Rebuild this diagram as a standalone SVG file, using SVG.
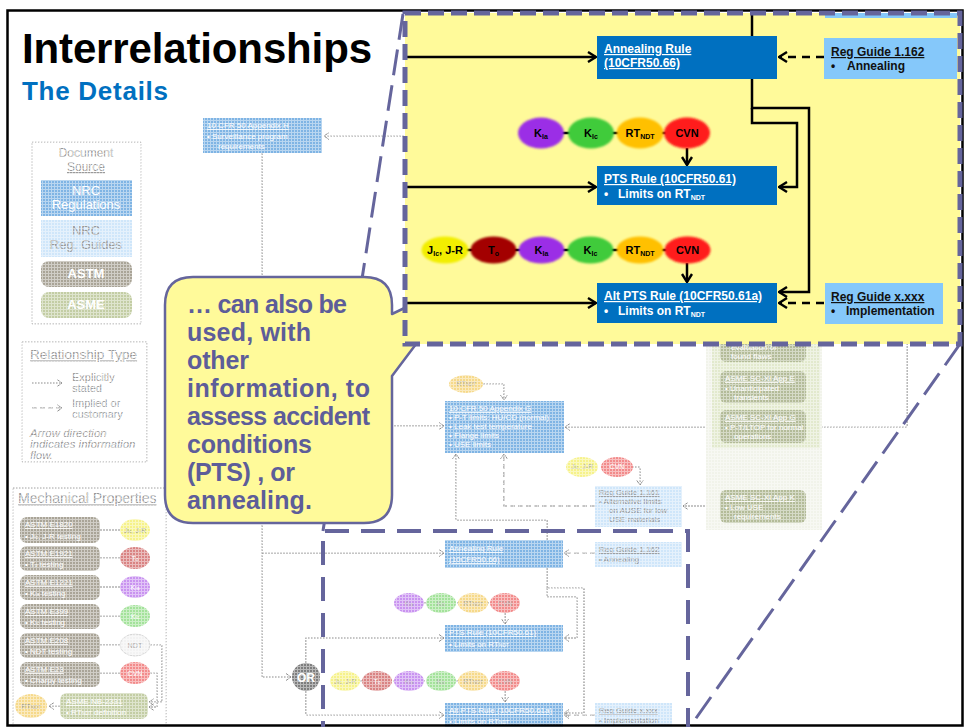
<svg xmlns="http://www.w3.org/2000/svg" width="966" height="727" viewBox="0 0 966 727">
<defs>
  <pattern id="hatch" width="3" height="3" patternUnits="userSpaceOnUse">
    <rect x="0" y="0" width="3" height="1" fill="#fff"/>
    <rect x="0" y="0" width="1" height="3" fill="#fff"/>
  </pattern>
  <marker id="ah" viewBox="0 0 10 12" refX="9" refY="6" markerWidth="10" markerHeight="12" markerUnits="userSpaceOnUse" orient="auto">
    <path d="M1,1 L9,6 L1,11" fill="none" stroke="#000" stroke-width="2.4"/>
  </marker>
  <marker id="fh" viewBox="0 0 6 8" refX="5.5" refY="4" markerWidth="6" markerHeight="8" markerUnits="userSpaceOnUse" orient="auto">
    <path d="M0.5,0.5 L5.5,4 L0.5,7.5" fill="none" stroke="#8c8c8c" stroke-width="1"/>
  </marker>
  <filter id="soft" x="-20%" y="-30%" width="140%" height="160%">
    <feGaussianBlur stdDeviation="0.8"/>
  </filter>
</defs>
<style>
  text { font-family: "Liberation Sans", Arial, sans-serif; }
  .f-line { fill:none; stroke:#8c8c8c; stroke-width:1.2; stroke-dasharray:2 1; }
  .f-dash { fill:none; stroke:#8c8c8c; stroke-width:1.2; stroke-dasharray:5 3; }
  .f-box { fill:none; stroke:#a0a0a0; stroke-width:1; stroke-dasharray:1.5 1.5; }
  .f-nrc { fill:#7fb4e4; }
  .f-rg { fill:#cfe6fa; }
  .f-astm { fill:#a9a497; }
  .f-asme { fill:#c3cda4; }
  .f-sc { fill:#b3bb98; }
  .f-wt { fill:#fff; font-size:8px; }
  .f-gt { fill:#8f8f8f; font-size:8px; }
  .f-lg { fill:#9a9a9a; font-size:12px; }
  .f-lt { fill:#999; font-size:11px; }
  .f-et { font-size:7px; text-anchor:middle; }
  .u { text-decoration:underline; }
  .k-line { fill:none; stroke:#000; stroke-width:2.5; }
  .k-dash { fill:none; stroke:#000; stroke-width:2.5; stroke-dasharray:8 6; }
  .reg { fill:#0070c0; }
  .rg { fill:#85c8fa; }
  .bt { fill:#fff; font-size:12px; font-weight:bold; }
  .dt { fill:#111; font-size:12px; font-weight:bold; }
  .et { font-size:11px; font-weight:bold; text-anchor:middle; fill:#000; }
  .sub { font-size:7px; }
  .co { fill:#5d5d99; font-size:25px; font-weight:bold; }
  .pd { fill:none; stroke:#65659c; }
  .glow { filter:url(#soft); }
</style>

<rect x="0" y="0" width="966" height="727" fill="#fff"/>

<!-- ===== washed-out background diagram ===== -->
<g id="background-diagram">
  <!-- legend: document source -->
  <g id="legend-source">
    <rect class="f-box" x="32" y="142" width="109" height="182"/>
    <text class="f-lg" x="86" y="157" text-anchor="middle">Document</text>
    <text class="f-lg u" x="86" y="171" text-anchor="middle">Source</text>
    <rect class="f-nrc" x="41" y="180" width="91" height="36"/>
    <text x="86" y="195" fill="#fff" font-size="13" text-anchor="middle">NRC</text>
    <text x="86" y="209" fill="#fff" font-size="13" text-anchor="middle">Regulations</text>
    <rect class="f-rg" x="41" y="220" width="91" height="37"/>
    <text x="86" y="235" fill="#9a9a9a" font-size="13" text-anchor="middle">NRC</text>
    <text x="86" y="249" fill="#9a9a9a" font-size="13" text-anchor="middle">Reg. Guides</text>
    <rect class="f-astm" x="41" y="261" width="91" height="26" rx="8"/>
    <text x="86" y="278" fill="#fff" font-size="13" font-weight="bold" text-anchor="middle">ASTM</text>
    <rect class="f-asme" x="41" y="292" width="91" height="26" rx="8"/>
    <text x="86" y="309" fill="#fff" font-size="13" font-weight="bold" text-anchor="middle">ASME</text>
  </g>

  <!-- legend: relationship type -->
  <g id="legend-relationship">
    <rect class="f-box" x="22" y="342" width="125" height="120"/>
    <text class="f-lg u" x="30" y="359" style="font-size:13.5px">Relationship Type</text>
    <path class="f-line" d="M32,383 H62" marker-end="url(#fh)"/>
    <text class="f-lt" x="72" y="381">Explicitly</text>
    <text class="f-lt" x="72" y="392">stated</text>
    <path class="f-dash" d="M32,408 H62" marker-end="url(#fh)"/>
    <text class="f-lt" x="72" y="407">Implied or</text>
    <text class="f-lt" x="72" y="418">customary</text>
    <text class="f-lt" x="30" y="437" style="font-size:11.5px;font-style:italic">Arrow direction</text>
    <text class="f-lt" x="30" y="448" style="font-size:11.5px;font-style:italic">indicates information</text>
    <text class="f-lt" x="30" y="459" style="font-size:11.5px;font-style:italic">flow.</text>
  </g>

  <!-- mechanical properties -->
  <g id="mechanical-properties">
    <rect class="f-box" x="13" y="488" width="153" height="250"/>
    <text class="f-lg u" x="18" y="503" style="font-size:14px">Mechanical Properties</text>
    <path class="f-line" d="M100,530 H120 M100,558 H120 M100,587 H120 M100,616 H120 M100,645 H120 M100,673 H120"/>
    <path class="f-line" d="M150,645 H162 V702 H149" marker-end="url(#fh)"/>
    <path class="f-line" d="M150,673 H157 V707 H149" marker-end="url(#fh)"/>
    <path class="f-line" d="M60,706 H49" marker-end="url(#fh)"/>
    <g id="astm-e1820">
      <rect class="f-astm" x="20" y="517" width="80" height="26" rx="7"/>
      <text class="f-wt u" x="25" y="527">ASTM E1820</text>
      <text class="f-wt" x="25" y="539">•  J<tspan font-size="5">Ic</tspan>, J-R testing</text>
      <ellipse cx="135" cy="530" rx="15" ry="11" fill="#f6f28a"/>
      <text class="f-et" x="135" y="533" fill="#999">J<tspan font-size="5">Ic</tspan>, J-R</text>
    </g>
    <g id="astm-e1921">
      <rect class="f-astm" x="20" y="546" width="80" height="25" rx="7"/>
      <text class="f-wt u" x="25" y="556">ASTM E1921</text>
      <text class="f-wt" x="25" y="567">•  T<tspan font-size="5">o</tspan> testing</text>
      <ellipse cx="135" cy="558" rx="15" ry="11" fill="#d98383"/>
      <text class="f-et" x="135" y="561" fill="#fff">T<tspan font-size="5">o</tspan></text>
    </g>
    <g id="astm-e1221">
      <rect class="f-astm" x="20" y="575" width="80" height="25" rx="7"/>
      <text class="f-wt u" x="25" y="585">ASTM E1221</text>
      <text class="f-wt" x="25" y="596">•  K<tspan font-size="5">Ia</tspan> testing</text>
      <ellipse cx="135" cy="587" rx="15" ry="11" fill="#c993f0"/>
      <text class="f-et" x="135" y="590" fill="#fff">K<tspan font-size="5">Ia</tspan></text>
    </g>
    <g id="astm-e399">
      <rect class="f-astm" x="20" y="604" width="80" height="25" rx="7"/>
      <text class="f-wt u" x="25" y="614">ASTM E399</text>
      <text class="f-wt" x="25" y="625">•  K<tspan font-size="5">Ic</tspan> testing</text>
      <ellipse cx="135" cy="616" rx="15" ry="11" fill="#a3e29a"/>
      <text class="f-et" x="135" y="619" fill="#fff">K<tspan font-size="5">Ic</tspan></text>
    </g>
    <g id="astm-e208">
      <rect class="f-astm" x="20" y="633" width="80" height="25" rx="7"/>
      <text class="f-wt u" x="25" y="643">ASTM E208</text>
      <text class="f-wt" x="25" y="654">•  NDT testing</text>
      <ellipse cx="135" cy="645" rx="15" ry="11" fill="#f2f2f2" stroke="#d6d6d6"/>
      <text class="f-et" x="135" y="648" fill="#aaa">NDT</text>
    </g>
    <g id="astm-e23">
      <rect class="f-astm" x="20" y="662" width="80" height="25" rx="7"/>
      <text class="f-wt u" x="25" y="672">ASTM E23</text>
      <text class="f-wt" x="25" y="683">•  Charpy testing</text>
      <ellipse cx="135" cy="673" rx="15" ry="11" fill="#f28b8b"/>
      <text class="f-et" x="135" y="676" fill="#fff">CVN</text>
    </g>
    <g id="asme-nb2331">
      <rect class="f-asme" x="60" y="693" width="88" height="26" rx="7"/>
      <text class="f-wt u" x="66" y="704">ASME NB-2331</text>
      <text class="f-wt" x="66" y="715">•  RT<tspan font-size="5">NDT</tspan> definition</text>
      <ellipse cx="31" cy="706" rx="16" ry="12" fill="#f6d98a"/>
      <text class="f-et" x="31" y="709" fill="#999">RT<tspan font-size="5">NDT</tspan></text>
    </g>
  </g>

  <!-- faded connectors -->
  <g id="background-connectors">
    <path class="f-line" d="M404,136 H324" marker-end="url(#fh)"/>
    <path class="f-line" d="M262,153 V677 H291" marker-end="url(#fh)"/>
    <path class="f-line" d="M262,426 H444" marker-end="url(#fh)"/>
    <path class="f-line" d="M262,553 H444" marker-end="url(#fh)"/>
    <path class="f-line" d="M306,663 V638 H444" marker-end="url(#fh)"/>
    <path class="f-line" d="M306,691 V715 H444" marker-end="url(#fh)"/>
    <path class="f-line" d="M483,384 H504 V400" marker-end="url(#fh)"/>
    <path class="f-line" d="M547,540 V520 H456 V454" marker-end="url(#fh)"/>
    <path class="f-dash" d="M595,506 H504 V454" marker-end="url(#fh)"/>
    <path class="f-line" d="M632,467 H640 V485" marker-end="url(#fh)"/>
    <path class="f-line" d="M720,506 H683" marker-end="url(#fh)"/>
    <path class="f-line" d="M720,427 H565" marker-end="url(#fh)"/>
    <path class="f-line" d="M815,343 V506 H807" marker-end="url(#fh)"/>
    <path class="f-line" d="M815,386 H807" marker-end="url(#fh)"/>
    <path class="f-line" d="M815,418 H807" marker-end="url(#fh)"/>
    <path class="f-line" d="M907,343 V427 H807" marker-end="url(#fh)"/>
    <path class="f-dash" d="M595,553 H564" marker-end="url(#fh)"/>
    <path class="f-line" d="M547,568 V588 H584 V713 H564" marker-end="url(#fh)"/>
    <path class="f-line" d="M547,588 V597 H577 V638 H564" marker-end="url(#fh)"/>
    <path class="f-line" d="M505,613 V624" marker-end="url(#fh)"/>
    <path class="f-line" d="M505,691 V702" marker-end="url(#fh)"/>
    <path class="f-dash" d="M595,715 H564" marker-end="url(#fh)"/>
    <path class="f-line" d="M409,603 H505 M345,681 H505"/>
  </g>

  <g id="app-h">
    <rect class="f-nrc" x="203" y="118" width="119" height="35"/>
    <text class="f-wt u" x="207" y="128">10 CFR 50 Appendix H</text>
    <text class="f-wt" x="207" y="139">•   Surveillance program</text>
    <text class="f-wt" x="218" y="149">requirements</text>
  </g>
  <g id="app-g-rt">
    <ellipse cx="466" cy="384" rx="17" ry="9" fill="#f6d98a"/>
    <text class="f-et" x="466" y="386" fill="#aaa">RT<tspan font-size="5">NDT</tspan></text>
  </g>
  <g id="app-g">
    <rect class="f-nrc" x="445" y="401" width="119" height="52"/>
    <text class="f-wt u" x="449" y="411">10 CFR 50 Appendix G</text>
    <text class="f-wt" x="449" y="420">•   P-T limits: HU/CD (normal)</text>
    <text class="f-wt" x="449" y="429">•   Leak test temperature</text>
    <text class="f-wt" x="449" y="438">•   Flange limits</text>
    <text class="f-wt" x="449" y="447">•   USE limits</text>
  </g>
  <g id="rg1161-props">
    <ellipse cx="582" cy="467" rx="16" ry="10" fill="#f6f28a"/>
    <text class="f-et" x="582" y="469" fill="#aaa">J<tspan font-size="5">Ic</tspan>, J-R</text>
    <ellipse cx="617" cy="467" rx="16" ry="10" fill="#f28b8b"/>
    <text class="f-et" x="617" y="469" fill="#fff">CVN</text>
  </g>
  <g id="rg-1161">
    <rect class="f-rg" x="595" y="486" width="87" height="41"/>
    <text class="f-gt u" x="599" y="495">Reg Guide 1.161</text>
    <text class="f-gt" x="599" y="504">•   Alternative limits</text>
    <text class="f-gt" x="609" y="513">on AUSE for low</text>
    <text class="f-gt" x="609" y="522">USE materials</text>
  </g>
  <g id="asme-xi">
    <rect x="706" y="340" width="116" height="190" fill="#f1f3ea"/>
    <rect x="712" y="340" width="108" height="108" fill="#e2e9cd"/>
    <rect class="f-sc" x="720" y="330" width="86" height="32" rx="6"/>
    <text class="f-wt" x="731" y="350">evaluation of</text>
    <text class="f-wt" x="731" y="359">found flaws</text>
    <rect class="f-sc" x="720" y="371" width="86" height="32" rx="6"/>
    <text class="f-wt u" x="725" y="381">ASME SC-XI App E</text>
    <text class="f-wt" x="725" y="391">•   Unanticipated</text>
    <text class="f-wt" x="734" y="400">transients</text>
    <rect class="f-sc" x="720" y="410" width="86" height="33" rx="6"/>
    <text class="f-wt u" x="725" y="420">ASME SC-XI App G</text>
    <text class="f-wt" x="725" y="430">•   P-T/LTOP for normal</text>
    <text class="f-wt" x="734" y="439">operations</text>
    <rect class="f-sc" x="720" y="490" width="86" height="33" rx="6"/>
    <text class="f-wt u" x="725" y="500">ASME SC-XI App K</text>
    <text class="f-wt" x="725" y="510">•   Low USE</text>
    <text class="f-wt" x="734" y="519">requirements</text>
  </g>

  <!-- lower detail group (faded) -->
  <g id="f-annealing">
    <rect class="f-nrc" x="445" y="540" width="118" height="28"/>
    <text class="f-wt u" x="449" y="551">Annealing Rule</text>
    <text class="f-wt u" x="449" y="562">(10CFR50.66)</text>
  </g>
  <g id="f-rg1162">
    <rect class="f-rg" x="595" y="542" width="87" height="25"/>
    <text class="f-gt u" x="599" y="552">Reg Guide 1.162</text>
    <text class="f-gt" x="599" y="562">•   Annealing</text>
  </g>
  <g id="f-props-pts">
    <ellipse cx="409" cy="603" rx="15" ry="10" fill="#c993f0"/>
    <ellipse cx="441" cy="603" rx="15" ry="10" fill="#a3e29a"/>
    <ellipse cx="473" cy="603" rx="15" ry="10" fill="#f6d98a"/>
    <ellipse cx="505" cy="603" rx="15" ry="10" fill="#f28b8b"/>
    <text class="f-et" x="409" y="606" fill="#aaa">K<tspan font-size="5">Ia</tspan></text>
    <text class="f-et" x="441" y="606" fill="#aaa">K<tspan font-size="5">Ic</tspan></text>
    <text class="f-et" x="473" y="606" fill="#aaa">RT<tspan font-size="5">NDT</tspan></text>
    <text class="f-et" x="505" y="606" fill="#aaa">CVN</text>
  </g>
  <g id="f-pts">
    <rect class="f-nrc" x="445" y="625" width="118" height="27"/>
    <text class="f-wt u" x="449" y="635">PTS Rule (10CFR50.61)</text>
    <text class="f-wt" x="449" y="647">•   Limits on RT<tspan font-size="5">NDT</tspan></text>
  </g>
  <g id="f-or">
    <circle cx="306" cy="677" r="14" fill="#7e7e7e"/>
    <text x="306" y="682" fill="#fff" font-size="12" font-weight="bold" text-anchor="middle">OR</text>
  </g>
  <g id="f-props-alt">
    <ellipse cx="345" cy="681" rx="15" ry="10" fill="#f6f28a"/>
    <ellipse cx="377" cy="681" rx="15" ry="10" fill="#d98383"/>
    <ellipse cx="409" cy="681" rx="15" ry="10" fill="#c993f0"/>
    <ellipse cx="441" cy="681" rx="15" ry="10" fill="#a3e29a"/>
    <ellipse cx="473" cy="681" rx="15" ry="10" fill="#f6d98a"/>
    <ellipse cx="505" cy="681" rx="15" ry="10" fill="#f28b8b"/>
    <text class="f-et" x="345" y="684" fill="#aaa">J<tspan font-size="5">Ic</tspan>, J-R</text>
    <text class="f-et" x="377" y="684" fill="#fff">T<tspan font-size="5">o</tspan></text>
    <text class="f-et" x="409" y="684" fill="#aaa">K<tspan font-size="5">Ia</tspan></text>
    <text class="f-et" x="441" y="684" fill="#aaa">K<tspan font-size="5">Ic</tspan></text>
    <text class="f-et" x="473" y="684" fill="#aaa">RT<tspan font-size="5">NDT</tspan></text>
    <text class="f-et" x="505" y="684" fill="#aaa">CVN</text>
  </g>
  <g id="f-altpts">
    <rect class="f-nrc" x="445" y="703" width="118" height="30"/>
    <text class="f-wt u" x="449" y="713">Alt PTS Rule (10CFR50.61a)</text>
    <text class="f-wt" x="449" y="724">•   Limits on RT<tspan font-size="5">NDT</tspan></text>
  </g>
  <g id="f-rgx">
    <rect class="f-rg" x="595" y="703" width="77" height="30"/>
    <text class="f-gt u" x="599" y="713">Reg Guide x.xxx</text>
    <text class="f-gt" x="599" y="723">•   Implementation</text>
  </g>
</g>

<!-- print texture over the washed-out layer -->
<rect x="7" y="110" width="956" height="617" fill="url(#hatch)" opacity="0.45"/>

<!-- slide frame and heading -->
<rect x="7.5" y="10.5" width="955" height="715" fill="none" stroke="#000" stroke-width="2.5"/>
<g id="heading">
  <text x="22" y="63" font-size="42" font-weight="bold" fill="#000" textLength="350">Interrelationships</text>
  <text x="22" y="100" font-size="26" font-weight="bold" fill="#0070c0" textLength="146">The Details</text>
</g>

<!-- zoom frame and guide lines -->
<g id="zoom-guides">
  <path class="pd" d="M323,745 V531 H688 V745" stroke-width="4" stroke-dasharray="24 12"/>
  <path class="pd" d="M403,14 L323,531" stroke-width="3" stroke-dasharray="26 10"/>
  <path class="pd" d="M960,344 L687,731" stroke-width="3" stroke-dasharray="26 10"/>
</g>

<!-- callout -->
<g id="callout">
  <path d="M193,277 H364 Q392,277 392,305 V314 L465,279 L392,376 V495 Q392,523 364,523 H193 Q165,523 165,495 V305 Q165,277 193,277 Z" fill="#fffa9a" stroke="#65659c" stroke-width="2.5" stroke-linejoin="round"/>
  <text class="co" x="187" y="313" textLength="160">… can also be</text>
  <text class="co" x="187" y="341" textLength="124">used, with</text>
  <text class="co" x="187" y="369" textLength="62">other</text>
  <text class="co" x="187" y="397" textLength="183">information, to</text>
  <text class="co" x="187" y="425" textLength="183">assess accident</text>
  <text class="co" x="187" y="453" textLength="125">conditions</text>
  <text class="co" x="187" y="481" textLength="108">(PTS) , or</text>
  <text class="co" x="187" y="509" textLength="125">annealing.</text>
</g>

<!-- enlarged detail panel -->
<g id="detail-panel">
  <rect x="405" y="13" width="555" height="331" fill="#fffa9a"/>
  <rect class="rg" x="825" y="13" width="132" height="5"/>

  <g id="connectors">
    <path class="k-line" d="M752,13 V36"/>
    <path class="k-line" d="M406,57 H596" marker-end="url(#ah)"/>
    <path class="k-dash" d="M824,57 H779" marker-end="url(#ah)"/>
    <path class="k-line" d="M752,79 V108 H809 V292 H779" marker-end="url(#ah)"/>
    <path class="k-line" d="M752,108 V123 H797 V187 H779" marker-end="url(#ah)"/>
    <path class="k-line" d="M406,187 H596" marker-end="url(#ah)"/>
    <path class="k-line" d="M406,303 H596" marker-end="url(#ah)"/>
    <path class="k-dash" d="M824,303 H779" marker-end="url(#ah)"/>
    <path class="k-line" d="M687,148 V165" marker-end="url(#ah)"/>
    <path class="k-line" d="M687,263 V282" marker-end="url(#ah)"/>
    <path class="k-line" d="M541,133 H687 M445,250 H687"/>
  </g>

  <g id="annealing-rule">
    <rect class="reg" x="597" y="36" width="180" height="43"/>
    <text class="bt u" x="604" y="53">Annealing Rule</text>
    <text class="bt u" x="604" y="67">(10CFR50.66)</text>
  </g>
  <g id="reg-guide-1162">
    <rect class="rg" x="824" y="38" width="133" height="41"/>
    <text class="dt u" x="831" y="56">Reg Guide 1.162</text>
    <text class="dt" x="831" y="70">•</text>
    <text class="dt" x="847" y="70">Annealing</text>
  </g>

  <g id="pts-properties">
    <ellipse class="glow" cx="541" cy="133" rx="23" ry="15.5" fill="#9b2fe6"/>
    <ellipse class="glow" cx="591" cy="133" rx="23" ry="15.5" fill="#3fcb3a"/>
    <ellipse class="glow" cx="640" cy="133" rx="23.5" ry="15.5" fill="#ffc000"/>
    <ellipse class="glow" cx="687" cy="133" rx="23" ry="15.5" fill="#ff1a1a"/>
    <text class="et" x="541" y="137">K<tspan class="sub" dy="2">Ia</tspan></text>
    <text class="et" x="591" y="137">K<tspan class="sub" dy="2">Ic</tspan></text>
    <text class="et" x="640" y="137">RT<tspan class="sub" dy="2">NDT</tspan></text>
    <text class="et" x="687" y="137">CVN</text>
  </g>

  <g id="pts-rule">
    <rect class="reg" x="597" y="166" width="180" height="39"/>
    <text class="bt u" x="604" y="183">PTS Rule (10CFR50.61)</text>
    <text class="bt" x="604" y="198">•</text>
    <text class="bt" x="618" y="198">Limits on RT<tspan class="sub" dy="2">NDT</tspan></text>
  </g>

  <g id="alt-pts-properties">
    <ellipse class="glow" cx="445" cy="250" rx="23.5" ry="13.5" fill="#f2ee00"/>
    <ellipse class="glow" cx="493.5" cy="250" rx="23" ry="13.5" fill="#a30000"/>
    <ellipse class="glow" cx="541.5" cy="250" rx="23" ry="13.5" fill="#9b2fe6"/>
    <ellipse class="glow" cx="590.5" cy="250" rx="23" ry="13.5" fill="#3fcb3a"/>
    <ellipse class="glow" cx="640" cy="250" rx="23.5" ry="13.5" fill="#ffc000"/>
    <ellipse class="glow" cx="687.5" cy="250" rx="23" ry="13.5" fill="#ff1a1a"/>
    <text class="et" x="445" y="254">J<tspan class="sub" dy="2">Ic</tspan><tspan dy="-2">, J-R</tspan></text>
    <text class="et" x="493.5" y="254" fill="#fff">T<tspan class="sub" dy="2">o</tspan></text>
    <text class="et" x="541.5" y="254">K<tspan class="sub" dy="2">Ia</tspan></text>
    <text class="et" x="590.5" y="254">K<tspan class="sub" dy="2">Ic</tspan></text>
    <text class="et" x="640" y="254">RT<tspan class="sub" dy="2">NDT</tspan></text>
    <text class="et" x="687.5" y="254">CVN</text>
  </g>

  <g id="alt-pts-rule">
    <rect class="reg" x="597" y="283" width="180" height="40"/>
    <text class="bt u" x="604" y="300">Alt PTS Rule (10CFR50.61a)</text>
    <text class="bt" x="604" y="315">•</text>
    <text class="bt" x="618" y="315">Limits on RT<tspan class="sub" dy="2">NDT</tspan></text>
  </g>
  <g id="reg-guide-xxxx">
    <rect class="rg" x="825" y="283" width="118" height="41"/>
    <text class="dt u" x="831" y="301">Reg Guide x.xxx</text>
    <text class="dt" x="831" y="315">•</text>
    <text class="dt" x="846" y="315">Implementation</text>
  </g>

  <rect x="405" y="13" width="555" height="331" fill="none" stroke="#65659c" stroke-width="5" stroke-dasharray="16 7"/>
</g>
</svg>
